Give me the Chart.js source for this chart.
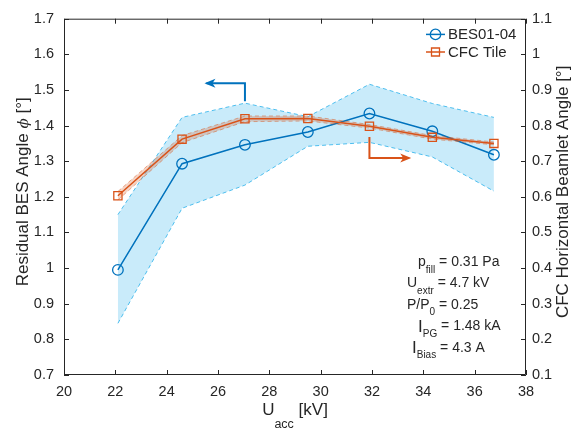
<!DOCTYPE html>
<html>
<head>
<meta charset="utf-8">
<script src="https://cdn.jsdelivr.net/npm/chart.js@4/dist/chart.umd.min.js"></script>
<style>
  html, body { margin: 0; padding: 0; background: #fff; }
  #wrap { width: 578px; height: 431px; }
</style>
</head>
<body>
<div id="wrap"><canvas id="angles" width="578" height="431"></canvas></div>
<script>
// acceleration voltage [kV]
const uAcc = [22.1, 24.6, 27.05, 29.5, 31.9, 34.35, 36.75];

// BES01-04 residual angle [deg] with spread band
const besAngle = [0.995, 1.293, 1.346, 1.382, 1.434, 1.384, 1.318];
const besUpper = [1.150, 1.423, 1.463, 1.425, 1.516, 1.462, 1.423];
const besLower = [0.845, 1.168, 1.233, 1.342, 1.353, 1.312, 1.216];

// CFC tile horizontal beamlet angle [deg] with spread band
const cfcAngle = [0.603, 0.762, 0.819, 0.820, 0.798, 0.767, 0.750];
const cfcUpper = [0.615, 0.772, 0.827, 0.827, 0.803, 0.772, 0.754];
const cfcLower = [0.591, 0.752, 0.811, 0.813, 0.793, 0.762, 0.746];

const xTicks = [20, 22, 24, 26, 28, 30, 32, 34, 36, 38];
const leftTicks = [0.7, 0.8, 0.9, 1.0, 1.1, 1.2, 1.3, 1.4, 1.5, 1.6, 1.7];
const rightTicks = [0.1, 0.2, 0.3, 0.4, 0.5, 0.6, 0.7, 0.8, 0.9, 1.0, 1.1];

const seriesNames = ['BES01-04', 'CFC Tile'];

// operating point, [text, style] pieces per line
const paramLines = [
  [['p', 'm'], ['fill', 's'], [' = 0.31 Pa', 'm']],
  [['U', 'm'], ['extr', 's'], [' = 4.7 kV', 'm']],
  [['P/P', 'm'], ['0', 's'], [' = 0.25', 'm']],
  [['I', 'b'], ['PG', 's'], [' = 1.48 kA', 'm']],
  [['I', 'b'], ['Bias', 's'], [' = 4.3 A', 'm']]
];

const BLUE = '#0072BD';
const ORANGE = '#D95319';
const INK = '#262626';
const FAM = '"Liberation Sans", Arial, Helvetica, sans-serif';

const fmt = v => String(Number(v.toFixed(1)));

function drawRich(ctx, segs, x, y, fonts) {
  let cx = x;
  for (const [txt, kind] of segs) {
    const f = fonts[kind];
    ctx.font = f.font;
    ctx.fillText(txt, cx, y + f.dy);
    cx += ctx.measureText(txt).width;
  }
}

function richWidth(ctx, segs, fonts) {
  let w = 0;
  for (const [txt, kind] of segs) {
    ctx.font = fonts[kind].font;
    w += ctx.measureText(txt).width;
  }
  return w;
}

// elbow arrow in data units: [x, y] corners, head at the last one
function drawArrow(ctx, xs, ys, pts, color) {
  const p = pts.map(([x, y]) => [xs.getPixelForValue(x), ys.getPixelForValue(y)]);
  ctx.save();
  ctx.strokeStyle = color;
  ctx.fillStyle = color;
  ctx.lineWidth = 2;
  ctx.beginPath();
  ctx.moveTo(p[0][0], p[0][1]);
  for (let i = 1; i < p.length; i++) ctx.lineTo(p[i][0], p[i][1]);
  ctx.stroke();
  const [ax, ay] = p[p.length - 1];
  const [bx, by] = p[p.length - 2];
  const ang = Math.atan2(ay - by, ax - bx);
  ctx.translate(ax, ay);
  ctx.rotate(ang);
  ctx.beginPath();
  ctx.moveTo(2, 0);
  ctx.lineTo(-9, -4.5);
  ctx.lineTo(-6, 0);
  ctx.lineTo(-9, 4.5);
  ctx.closePath();
  ctx.fill();
  ctx.restore();
}

const decor = {
  id: 'decor',
  afterDraw(chart) {
    const { ctx, chartArea: a, scales } = chart;
    const { x, y, y1 } = scales;
    ctx.save();

    // axes box and inward ticks
    ctx.strokeStyle = INK;
    ctx.lineWidth = 1;
    ctx.beginPath();
    ctx.rect(a.left + 0.5, a.top + 0.5, a.right - a.left - 1, a.bottom - a.top - 1);
    ctx.stroke();
    ctx.beginPath();
    xTicks.forEach(v => {
      const px = Math.round(x.getPixelForValue(v)) + 0.5;
      ctx.moveTo(px, a.bottom); ctx.lineTo(px, a.bottom - 5);
      ctx.moveTo(px, a.top); ctx.lineTo(px, a.top + 5);
    });
    leftTicks.forEach(v => {
      const py = Math.round(y.getPixelForValue(v)) + 0.5;
      ctx.moveTo(a.left, py); ctx.lineTo(a.left + 5, py);
    });
    rightTicks.forEach(v => {
      const py = Math.round(y1.getPixelForValue(v)) + 0.5;
      ctx.moveTo(a.right, py); ctx.lineTo(a.right - 5, py);
    });
    ctx.stroke();

    // axis arrows pointing to each series' scale
    drawArrow(ctx, x, y, [[27.05, 1.468], [27.05, 1.519], [25.55, 1.519]], BLUE);
    drawArrow(ctx, x, y1, [[31.9, 0.768], [31.9, 0.709], [33.45, 0.709]], ORANGE);

    // legend
    const legend = [
      { name: seriesNames[0], color: BLUE, shape: 'circle' },
      { name: seriesNames[1], color: ORANGE, shape: 'square' }
    ];
    legend.forEach((it, i) => {
      const ly = a.top + 15.7 + i * 17.6;
      const lx0 = a.right - 100, lx1 = a.right - 81, mx = (lx0 + lx1) / 2;
      ctx.strokeStyle = it.color;
      ctx.lineWidth = 1.5;
      ctx.beginPath();
      ctx.moveTo(lx0, ly); ctx.lineTo(lx1, ly);
      ctx.stroke();
      ctx.lineWidth = 1.3;
      ctx.beginPath();
      if (it.shape === 'circle') ctx.arc(mx, ly, 5.2, 0, Math.PI * 2);
      else ctx.rect(mx - 4, ly - 4, 8, 8);
      ctx.stroke();
      ctx.fillStyle = INK;
      ctx.font = '15px ' + FAM;
      ctx.textAlign = 'left';
      ctx.textBaseline = 'middle';
      ctx.fillText(it.name, a.right - 78, ly + 0.5);
    });

    // operating parameters
    ctx.textBaseline = 'alphabetic';
    ctx.fillStyle = INK;
    const pf = {
      m: { font: '14px ' + FAM, dy: 0 },
      s: { font: '10px ' + FAM, dy: 6.5 },
      b: { font: '17px ' + FAM, dy: 1.5 }
    };
    const lineStart = [108, 119, 119, 108, 114];
    paramLines.forEach((segs, i) => {
      drawRich(ctx, segs, a.right - lineStart[i], 266 + i * 21.4, pf);
    });

    // axis titles
    const tf = {
      m: { font: '17px ' + FAM, dy: 0 },
      s: { font: '12.5px ' + FAM, dy: 13 },
      i: { font: 'italic 15px "DejaVu Serif", serif', dy: 0 }
    };
    const xTitle = [['U', 'm'], ['acc', 's'], [' [kV]', 'm']];
    const cx = (a.left + a.right) / 2;
    drawRich(ctx, xTitle, cx - richWidth(ctx, xTitle, tf) / 2, 415, tf);

    const cy = (a.top + a.bottom) / 2 - 5;
    const yTitle = [['Residual BES Angle ', 'm'], ['ϕ', 'i'], [' [°]', 'm']];
    ctx.save();
    ctx.translate(28, cy);
    ctx.rotate(-Math.PI / 2);
    drawRich(ctx, yTitle, -richWidth(ctx, yTitle, tf) / 2, 0, tf);
    ctx.restore();

    const y1Title = [['CFC Horizontal Beamlet Angle [°]', 'm']];
    ctx.save();
    ctx.translate(568, cy);
    ctx.rotate(-Math.PI / 2);
    drawRich(ctx, y1Title, -richWidth(ctx, y1Title, tf) / 2, 0, tf);
    ctx.restore();

    ctx.restore();
  }
};

const band = (data, axis, color, fill) => ({
  data, yAxisID: axis, fill, backgroundColor: fill ? color.fill : 'transparent',
  borderColor: color.edge, borderWidth: 1, borderDash: [4, 3],
  pointRadius: 0, tension: 0
});

const besBand = { fill: 'rgba(77, 190, 238, 0.3)', edge: '#4DBEEE' };
const cfcBand = { fill: 'rgba(217, 83, 25, 0.25)', edge: 'rgba(217, 83, 25, 0.45)' };

const noGrid = { display: false, drawTicks: false };

new Chart(document.getElementById('angles'), {
  type: 'line',
  data: {
    labels: uAcc,
    datasets: [
      { label: seriesNames[0], data: besAngle, yAxisID: 'y', order: 2,
        borderColor: BLUE, borderWidth: 1.5, backgroundColor: 'transparent',
        pointStyle: 'circle', pointRadius: 5.3, pointBorderWidth: 1.3,
        pointBorderColor: BLUE, pointBackgroundColor: 'transparent', tension: 0 },
      { label: seriesNames[1], data: cfcAngle, yAxisID: 'y1', order: 0,
        borderColor: ORANGE, borderWidth: 1.5, backgroundColor: 'transparent',
        pointStyle: 'rect', pointRadius: 5.8, pointBorderWidth: 1.3,
        pointBorderColor: ORANGE, pointBackgroundColor: 'transparent', tension: 0 },
      { ...band(besUpper, 'y', besBand, '+1'), order: 3 },
      { ...band(besLower, 'y', besBand, false), order: 3 },
      { ...band(cfcUpper, 'y1', cfcBand, '+1'), order: 1 },
      { ...band(cfcLower, 'y1', cfcBand, false), order: 1 }
    ].map(d => ({ ...d, data: d.data.map((v, i) => ({ x: uAcc[i], y: v })) }))
  },
  options: {
    responsive: false,
    animation: false,
    events: [],
    layout: { padding: { top: 16, left: 0, right: 0, bottom: 0 } },
    plugins: { legend: { display: false }, tooltip: { enabled: false } },
    scales: {
      x: {
        type: 'linear', min: 20, max: 38,
        grid: noGrid, border: { display: false },
        afterBuildTicks: s => { s.ticks = xTicks.map(v => ({ value: v })); },
        afterFit: s => { s.height = 56; },
        ticks: { color: INK, font: { size: 14.5, family: FAM }, padding: 8, maxRotation: 0,
                 callback: v => String(v) }
      },
      y: {
        position: 'left', min: 0.7, max: 1.7,
        grid: noGrid, border: { display: false },
        afterBuildTicks: s => { s.ticks = leftTicks.map(v => ({ value: v })); },
        afterFit: s => { s.width = 64; },
        ticks: { color: INK, font: { size: 14.5, family: FAM }, padding: 10, callback: fmt }
      },
      y1: {
        position: 'right', min: 0.1, max: 1.1,
        grid: noGrid, border: { display: false },
        afterBuildTicks: s => { s.ticks = rightTicks.map(v => ({ value: v })); },
        afterFit: s => { s.width = 52; },
        ticks: { color: INK, font: { size: 14.5, family: FAM }, padding: 6, callback: fmt }
      }
    }
  },
  plugins: [decor]
});
</script>
</body>
</html>
